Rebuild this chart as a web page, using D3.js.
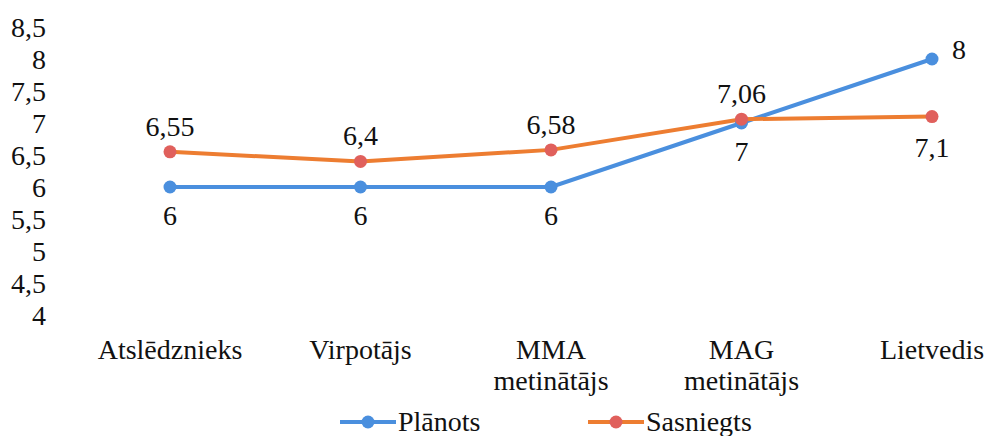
<!DOCTYPE html>
<html>
<head>
<meta charset="utf-8">
<script src="https://cdn.jsdelivr.net/npm/d3@7"></script>
<style>
  @font-face { font-family: "ChartSerif"; src: local("Liberation Serif"), local("LiberationSerif"), local("Times New Roman"); }
  body { margin: 0; background: #fff; }
</style>
</head>
<body>
<svg width="988" height="436"></svg>
<script>
var categories = [["Atslēdznieks"], ["Virpotājs"], ["MMA", "metinātājs"], ["MAG", "metinātājs"], ["Lietvedis"]];
var planots = [6, 6, 6, 7, 8];
var sasniegts = [6.55, 6.4, 6.58, 7.06, 7.1];
var yTicks = [4, 4.5, 5, 5.5, 6, 6.5, 7, 7.5, 8, 8.5];
var seriesNames = ["Plānots", "Sasniegts"];

var fontStack = "'Times New Roman'";
var fs = 28;
var svg = d3.select("svg");

var x = d3.scalePoint()
    .domain(d3.range(categories.length))
    .range([170, 932]);

var y = d3.scaleLinear()
    .domain([4, 8.5])
    .range([315, 27]);

var fmt = function(v) { return String(v).replace(".", ","); };

function txt(sel) {
  return sel.style("font-family", fontStack).attr("font-size", fs).attr("fill", "#111");
}

// y axis labels only
var yAxis = d3.axisLeft(y).tickValues(yTicks).tickFormat(fmt).tickSize(0).tickPadding(0);
var ga = svg.append("g").attr("transform", "translate(46,0)").call(yAxis);
ga.select(".domain").remove();
txt(ga.selectAll("text")).attr("dy", "0.34em");

// category labels
categories.forEach(function(lines, i) {
  var t = txt(svg.append("text").attr("text-anchor", "middle"));
  lines.forEach(function(l, j) {
    t.append("tspan").attr("x", x(i)).attr("y", 359 + j * 31).text(l);
  });
});

var line = d3.line()
    .x(function(d, i) { return x(i); })
    .y(function(d) { return y(d); });

var series = [
  { name: seriesNames[0], values: planots, color: "#4a8fde", marker: "#4a8fde" },
  { name: seriesNames[1], values: sasniegts, color: "#ed7d31", marker: "#e0605c" }
];

series.forEach(function(s) {
  svg.append("path")
      .datum(s.values)
      .attr("fill", "none")
      .attr("stroke", s.color)
      .attr("stroke-width", 4)
      .attr("d", line);
});

series.forEach(function(s) {
  svg.selectAll(null)
      .data(s.values)
      .enter().append("circle")
      .attr("cx", function(d, i) { return x(i); })
      .attr("cy", function(d) { return y(d); })
      .attr("r", 6.5)
      .attr("fill", s.marker);
});

function label(xp, yp, anchor, t) {
  txt(svg.append("text"))
      .attr("x", xp).attr("y", yp)
      .attr("text-anchor", anchor)
      .text(t);
}

// data labels
planots.forEach(function(v, i) {
  var last = i === planots.length - 1;
  if (last) label(x(i) + 20, y(v), "start", fmt(v));
  else label(x(i), y(v) + 38, "middle", fmt(v));
});
sasniegts.forEach(function(v, i) {
  var last = i === sasniegts.length - 1;
  label(x(i), last ? y(v) + 40 : y(v) - 16, "middle", fmt(v));
});

// legend
var legendX = [340, 588];
series.forEach(function(s, i) {
  var g = svg.append("g").attr("transform", "translate(" + legendX[i] + ",422)");
  g.append("line").attr("x1", 0).attr("x2", 56).attr("stroke", s.color).attr("stroke-width", 4);
  g.append("circle").attr("cx", 28).attr("r", 6.5).attr("fill", s.marker);
  txt(g.append("text")).attr("x", 58).attr("y", 9).text(s.name);
});
</script>
</body>
</html>
